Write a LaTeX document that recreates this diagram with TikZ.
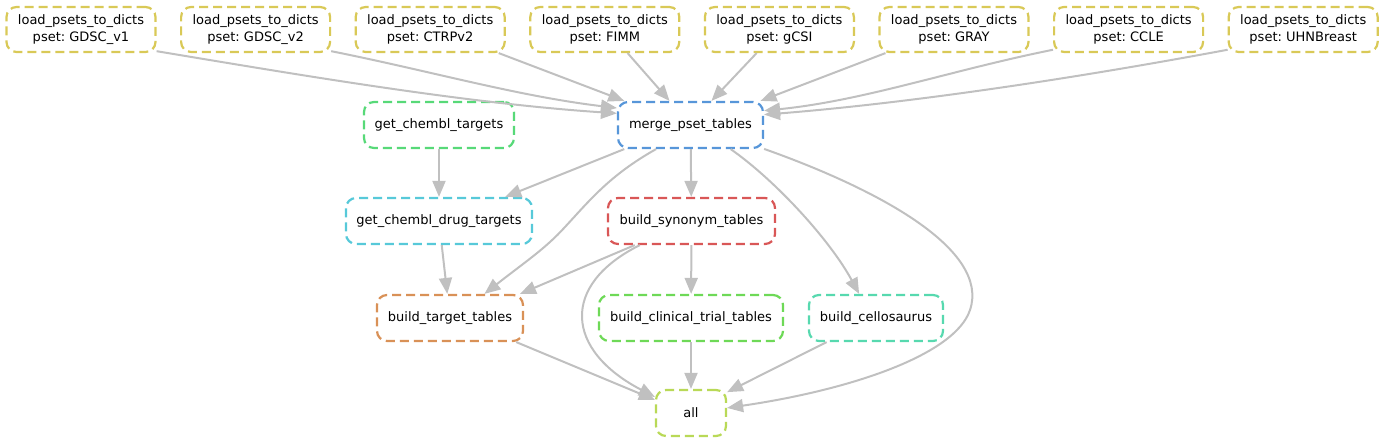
\documentclass[tikz,border=0pt]{standalone}
\usepackage{fontspec}
\newfontfamily\dv{DejaVu Sans}
\usetikzlibrary{arrows.meta}
\frenchspacing
\definecolor{cyel}{RGB}{217,201,87}
\definecolor{cblue}{RGB}{87,150,217}
\definecolor{cgreen}{RGB}{87,217,120}
\definecolor{ccyan}{RGB}{87,201,217}
\definecolor{cred}{RGB}{217,87,87}
\definecolor{corange}{RGB}{217,145,87}
\definecolor{clgreen}{RGB}{110,217,87}
\definecolor{cteal}{RGB}{87,217,175}
\definecolor{clime}{RGB}{185,217,87}
\definecolor{cedge}{RGB}{192,192,192}
\tikzset{
  rulebox/.style={draw, rounded corners=10pt, line width=2.2pt, dash pattern=on 9pt off 5pt,
    minimum height=46pt, inner sep=0pt, align=center, fill=white,
    font=\dv\frenchspacing\fontsize{13}{17}\selectfont},
  loadbox/.style={rulebox, draw=cyel, minimum width=149pt, minimum height=45pt},
  edge/.style={draw=cedge, line width=2pt, -{Triangle[length=16pt,width=13pt]}}
}
\begin{document}
\begin{tikzpicture}[x=1pt,y=-1pt]
\path[use as bounding box] (0,0) rectangle (1384,443);
% top row
\node[loadbox] (l0) at (81,29.5) {load\_psets\_to\_dicts\\pset: GDSC\_v1};
\node[loadbox] (l1) at (255.6,29.5) {load\_psets\_to\_dicts\\pset: GDSC\_v2};
\node[loadbox] (l2) at (430.2,29.5) {load\_psets\_to\_dicts\\pset: CTRPv2};
\node[loadbox] (l3) at (604.8,29.5) {load\_psets\_to\_dicts\\pset: FIMM};
\node[loadbox] (l4) at (779.4,29.5) {load\_psets\_to\_dicts\\pset: gCSI};
\node[loadbox] (l5) at (954,29.5) {load\_psets\_to\_dicts\\pset: GRAY};
\node[loadbox] (l6) at (1128.6,29.5) {load\_psets\_to\_dicts\\pset: CCLE};
\node[loadbox] (l7) at (1303.2,29.5) {load\_psets\_to\_dicts\\pset: UHNBreast};
% other rules
\node[rulebox, draw=cblue, minimum width=145pt] (merge) at (690.5,125) {merge\_pset\_tables};
\node[rulebox, draw=cgreen, minimum width=150pt] (gct) at (439,125) {get\_chembl\_targets};
\node[rulebox, draw=ccyan, minimum width=186pt] (gcdt) at (439,221) {get\_chembl\_drug\_targets};
\node[rulebox, draw=cred, minimum width=167pt] (syn) at (691.5,221) {build\_synonym\_tables};
\node[rulebox, draw=corange, minimum width=146pt] (tt) at (450,318) {build\_target\_tables};
\node[rulebox, draw=clgreen, minimum width=184pt] (clin) at (691,318) {build\_clinical\_trial\_tables};
\node[rulebox, draw=cteal, minimum width=134pt] (cell) at (876,318) {build\_cellosaurus};
\node[rulebox, draw=clime, minimum width=70pt] (all) at (691,413) {all};
% edges from load rules
\draw[edge] (l0.-16) .. controls +(150,25) and +(-150,-10) .. (merge.171);
\draw[edge] (l1.-16) .. controls +(100,20) and +(-100,-12) .. (merge.167);
\draw[edge] (l2.-19) -- (merge.160);
\draw[edge] (l3.-46) -- (merge.131);
\draw[edge] (l4.-134) -- (merge.49);
\draw[edge] (l5.-161) -- (merge.19);
\draw[edge] (l6.-165) .. controls +(-100,20) and +(100,-10) .. (merge.11);
\draw[edge] (l7.-165) .. controls +(-150,28) and +(150,-12) .. (merge.8);
% middle edges
\draw[edge] (gct) -- (gcdt);
\draw[edge] (merge.-160) -- (gcdt.20);
\draw[edge] (merge.-145) .. controls (610,175) and (590,200) .. (565,227)
  .. controls (545,249) and (525,262) .. (tt.35);
\draw[edge] (merge) -- (syn);
\draw[edge] (merge.-31) .. controls (775,180) and (830,240) .. (cell.125);
\draw[edge] (merge.-18) .. controls (880,190) and (990,250) .. (970,310)
  .. controls (955,355) and (850,390) .. (all.8);
\draw[edge] (gcdt) -- (tt);
\draw[edge] (syn.-157) -- (tt.19);
\draw[edge] (syn.-155) .. controls (560,285) and (565,350) .. (all.156);
\draw[edge] (syn) -- (clin);
\draw[edge] (tt.-20) -- (all.160);
\draw[edge] (clin) -- (all);
\draw[edge] (cell.-154) -- (all.30);
\end{tikzpicture}
\end{document}
